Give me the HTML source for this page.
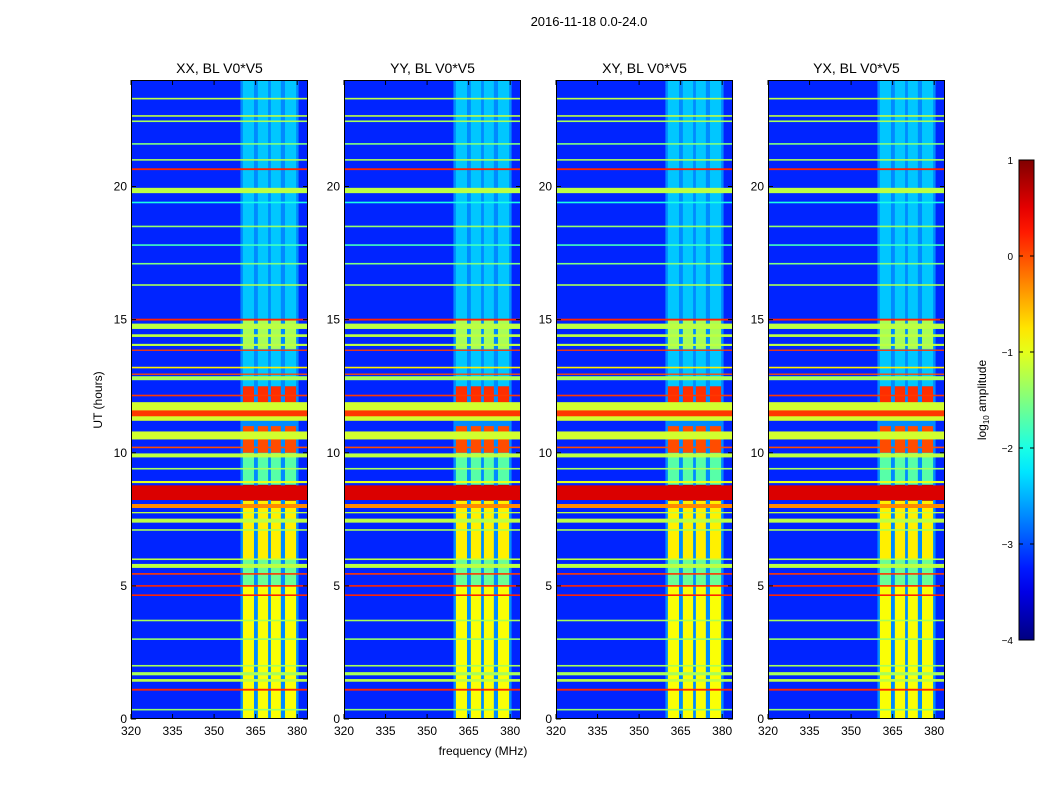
<!DOCTYPE html>
<html><head><meta charset="utf-8">
<style>
body{margin:0;background:#fff;}
svg{display:block;font-family:"Liberation Sans",sans-serif;}
</style></head>
<body>
<svg id="chart" width="1050" height="800" viewBox="0 0 1050 800">
<text x="589" y="26" font-size="13" text-anchor="middle">2016-11-18 0.0-24.0</text>
<text x="483" y="755" font-size="12" text-anchor="middle">frequency (MHz)</text>
<text x="102" y="400" font-size="12" text-anchor="middle" transform="rotate(-90 102 400)">UT (hours)</text>
<g id="panels"></g>
<g id="cbar"></g>
</svg>
<script>
// ---- data ----
const panelTitles = ["XX, BL V0*V5", "YY, BL V0*V5", "XY, BL V0*V5", "YX, BL V0*V5"];
const xTicks = [320, 335, 350, 365, 380];
const yTicks = [0, 5, 10, 15, 20];
const cbTicks = [1, 0, -1, -2, -3, -4];
const backgroundValue = -3.2;
const stripRegion = [359.5, 380.5, -2.7];
// horizontal RFI bands: [hour, thickness(hours), log10 amplitude]
const bandHours = [23.3,22.65,22.45,21.6,21.0,20.65,19.85,19.4,18.5,17.8,17.1,16.3,15.0,14.75,14.4,14.05,13.85,13.2,12.95,12.8,12.15,11.55,11.48,10.65,10.2,9.9,9.4,8.9,8.5,8.0,7.75,7.45,7.1,6.0,5.75,5.45,5.0,4.65,3.7,3.0,2.0,1.7,1.45,1.1,0.35];
const bandWidths = [0.06,0.06,0.06,0.06,0.06,0.07,0.2,0.06,0.06,0.06,0.06,0.06,0.07,0.2,0.1,0.08,0.05,0.06,0.05,0.15,0.06,0.7,0.22,0.3,0.06,0.15,0.06,0.08,0.55,0.15,0.05,0.15,0.06,0.06,0.15,0.06,0.06,0.06,0.06,0.06,0.06,0.12,0.1,0.07,0.06];
const bandValues = [-1.2,-1.2,-1.3,-1.5,-1.3,0.2,-1.2,-2.0,-1.4,-1.8,-1.5,-1.3,0.2,-1.2,-1.2,-1.2,0.1,-0.8,0.0,-1.3,0.1,-1.1,0.1,-1.1,0.0,-1.2,-1.3,-1.0,0.55,-0.3,-1.2,-1.2,-1.3,-1.2,-1.2,0.1,0.2,0.2,-1.3,-1.4,-1.3,-1.3,-1.2,0.2,-1.4];
// vertical RFI columns (MHz)
const colStart = [360.4, 365.8, 370.5, 375.6];
const colEnd = [364.4, 369.5, 374.1, 379.6];
// time segments within columns
const segStart = [0.0, 5.0, 6.0, 8.2, 8.8, 10.0, 11.8, 12.5, 13.9];
const segEnd = [5.0, 6.0, 8.2, 8.8, 10.0, 11.0, 12.5, 24.0, 15.0];
const segValue = [-0.9, -1.6, -0.8, 0.8, -1.7, 0.0, 0.15, -2.4, -1.3];

// ---- geometry ----
const panelX = [131, 344, 556, 768];
const PW = 177, PT = 80, PB = 719;
const fMin = 320, fMax = 383.9;
function xs(p, f){ return panelX[p] + (f - fMin) / (fMax - fMin) * PW; }
function ys(h){ return PB - h / 24 * (PB - PT); }
function jet(v){
  const t = Math.max(0, Math.min(1, (v + 4) / 5));
  const c = x => Math.round(255 * Math.max(0, Math.min(1, x)));
  return `rgb(${c(1.5-Math.abs(4*t-3))},${c(1.5-Math.abs(4*t-2))},${c(1.5-Math.abs(4*t-1))})`;
}
const NS = "http://www.w3.org/2000/svg";
function mk(tag, attrs, parent){
  const e = document.createElementNS(NS, tag);
  for (const k in attrs) e.setAttribute(k, attrs[k]);
  parent.appendChild(e); return e;
}
const panels = document.getElementById("panels");
for (let p = 0; p < 4; p++){
  const g = mk("g", {}, panels);
  
  
  const bg = mk("rect", {x: panelX[p], y: PT, width: PW, height: PB-PT, fill: jet(backgroundValue)}, g);
  
  
  const sr = mk("rect", {x: xs(p, stripRegion[0]), y: PT, width: xs(p, stripRegion[1]) - xs(p, stripRegion[0]), height: PB-PT, fill: jet(stripRegion[2])}, g);
  
  
  for (let c = 0; c < colStart.length; c++){
    for (let s = 0; s < segStart.length; s++){
      const r = mk("rect", {x: xs(p, colStart[c]), y: ys(segEnd[s]), width: xs(p, colEnd[c]) - xs(p, colStart[c]), height: ys(segStart[s]) - ys(segEnd[s]), fill: jet(segValue[s])}, g);
      
      
    }
  }
  for (let b = 0; b < bandHours.length; b++){
    const y1 = ys(bandHours[b] + bandWidths[b]/2), y2 = ys(bandHours[b] - bandWidths[b]/2);
    const r = mk("rect", {x: panelX[p], y: y1, width: PW, height: Math.max(1.3, y2 - y1), fill: jet(bandValues[b])}, g);
    
    
  }
  const fr = mk("rect", {x: panelX[p]+0.5, y: PT+0.5, width: PW-1, height: PB-PT-1, fill: "none", stroke: "#000", "stroke-width": 1}, g);
  
  
  const t = mk("text", {x: panelX[p] + PW/2, y: 73, "font-size": 14, "text-anchor": "middle"}, g);
  t.textContent = panelTitles[p];
  
  
  for (const f of xTicks){
    const x = xs(p, f);
    mk("line", {x1: x, x2: x, y1: PB, y2: PB-5, stroke: "#000"}, g);
    mk("line", {x1: x, x2: x, y1: PT, y2: PT+5, stroke: "#000"}, g);
    const l = mk("text", {x: x, y: PB+16, "font-size": 12, "text-anchor": "middle"}, g);
    l.textContent = f;
    
    
  }
  for (const h of yTicks){
    const y = ys(h);
    mk("line", {x1: panelX[p], x2: panelX[p]+5, y1: y, y2: y, stroke: "#000"}, g);
    mk("line", {x1: panelX[p]+PW, x2: panelX[p]+PW-5, y1: y, y2: y, stroke: "#000"}, g);
    const l = mk("text", {x: panelX[p]-4, y: y+4, "font-size": 12, "text-anchor": "end"}, g);
    l.textContent = h;
    
    
  }
}
// colorbar
const cb = document.getElementById("cbar");
const CBX = 1019, CBW = 15, CBT = 160, CBB = 640;
const defs = mk("defs", {}, cb);
const grad = mk("linearGradient", {id: "jetg", x1: 0, y1: 1, x2: 0, y2: 0}, defs);
for (let i = 0; i <= 20; i++){
  mk("stop", {offset: i/20, "stop-color": jet(-4 + 5*i/20)}, grad);
}
mk("rect", {x: CBX, y: CBT, width: CBW, height: CBB-CBT, fill: "url(#jetg)", stroke: "#000"}, cb);
for (const v of cbTicks){
  const y = CBB - (v + 4) / 5 * (CBB - CBT);
  mk("line", {x1: CBX, x2: CBX+4, y1: y, y2: y, stroke: "#000"}, cb);
  mk("line", {x1: CBX+CBW, x2: CBX+CBW-4, y1: y, y2: y, stroke: "#000"}, cb);
  const l = mk("text", {x: 1013, y: y+4, "font-size": 10, "text-anchor": "end"}, cb);
  l.textContent = v < 0 ? "\u2212" + (-v) : String(v);
  
  
}
const cl = mk("text", {x: 986, y: 400, "font-size": 12, "text-anchor": "middle", transform: "rotate(-90 986 400)"}, cb);
cl.innerHTML = 'log<tspan font-size="8" dy="3">10</tspan><tspan dy="-3"> amplitude</tspan>';


</script>
</body></html>
